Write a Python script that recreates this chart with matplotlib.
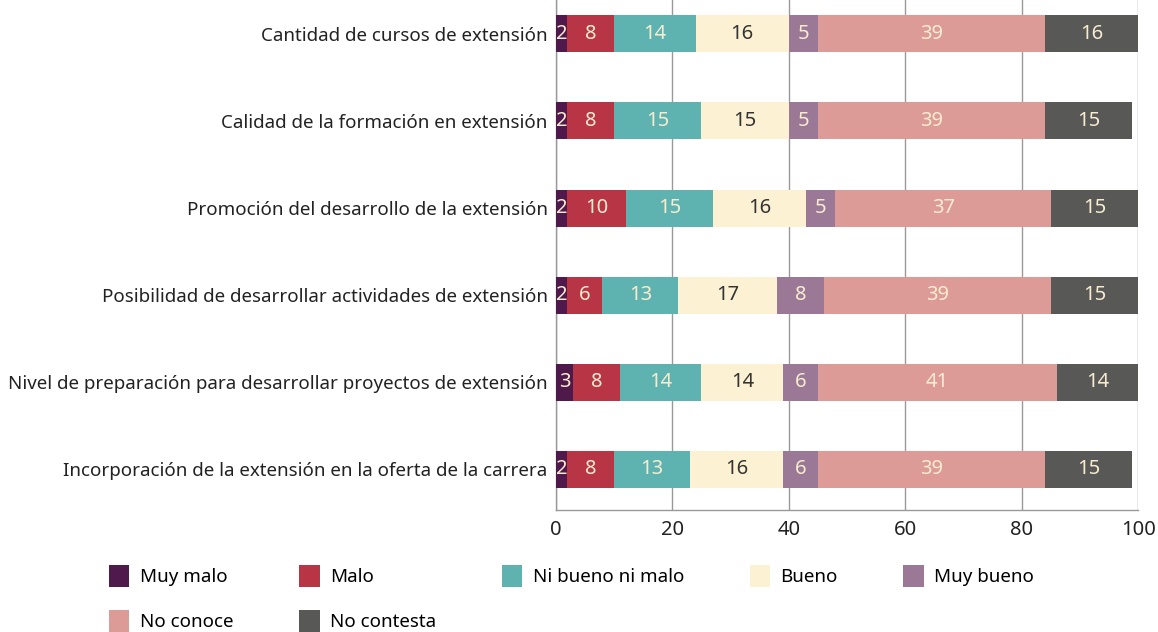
import numpy as np
import matplotlib.pyplot as plt
from matplotlib.patches import Patch

plt.rcParams["font.family"] = ["Noto Sans", "DejaVu Sans"]

categories = [
    "Cantidad de cursos de extensión",
    "Calidad de la formación en extensión",
    "Promoción del desarrollo de la extensión",
    "Posibilidad de desarrollar actividades de extensión",
    "Nivel de preparación para desarrollar proyectos de extensión",
    "Incorporación de la extensión en la oferta de la carrera",
]
series_names = ["Muy malo", "Malo", "Ni bueno ni malo", "Bueno", "Muy bueno", "No conoce", "No contesta"]
muy_malo = [2, 2, 2, 2, 3, 2]
malo = [8, 8, 10, 6, 8, 8]
ni_bueno_ni_malo = [14, 15, 15, 13, 14, 13]
bueno = [16, 15, 16, 17, 14, 16]
muy_bueno = [5, 5, 5, 8, 6, 6]
no_conoce = [39, 39, 37, 39, 41, 39]
no_contesta = [16, 15, 15, 15, 14, 15]
series = [muy_malo, malo, ni_bueno_ni_malo, bueno, muy_bueno, no_conoce, no_contesta]

colors = ["#4f1a4b", "#b83545", "#5eb3b0", "#fdf1d3", "#9b7896", "#dc9b97", "#585856"]
label_colors = ["#f8ecd0", "#f8ecd0", "#f8ecd0", "#333333", "#f8ecd0", "#f8ecd0", "#f8ecd0"]

fig = plt.figure(figsize=(11.58, 6.32), dpi=100)
ax = fig.add_axes([0.480, 0.193, 0.503, 0.807])

y = np.arange(len(categories))
left = np.zeros(len(categories))
for vals, col, lcol in zip(series, colors, label_colors):
    vals = np.array(vals, dtype=float)
    bars = ax.barh(y, vals, left=left, height=0.425, color=col, zorder=3)
    ax.bar_label(bars, labels=[str(int(v)) for v in vals], label_type="center",
                 color=lcol, fontsize=14.5, zorder=4)
    left += vals

ax.set_xlim(0, 100)
ax.set_ylim(5.47, -0.39)
ax.set_xticks([0, 20, 40, 60, 80, 100])
ax.set_yticks(y)
ax.set_yticklabels(categories, fontsize=13.5, color="#222222")
ax.tick_params(axis="y", length=0, pad=6)
ax.tick_params(axis="x", length=0, pad=7, labelsize=14.5, labelcolor="#222222")
ax.grid(axis="x", color="#999999", linewidth=1, zorder=0)
for side in ["top", "right"]:
    ax.spines[side].set_visible(False)
for side in ["left", "bottom"]:
    ax.spines[side].set_color("#999999")
    ax.spines[side].set_linewidth(1)

order = [0, 5, 1, 6, 2, 3, 4]
handles = [Patch(facecolor=colors[i], edgecolor="none", label=series_names[i]) for i in order]
fig.legend(handles=handles, loc="upper left", bbox_to_anchor=(0.094, 0.106), ncol=5,
           frameon=False, fontsize=13.5, handlelength=1.1, handleheight=1.45,
           handletextpad=0.55, labelspacing=1.2, columnspacing=3.5,
           borderpad=0, borderaxespad=0)

fig.savefig("out.png", dpi=100)
